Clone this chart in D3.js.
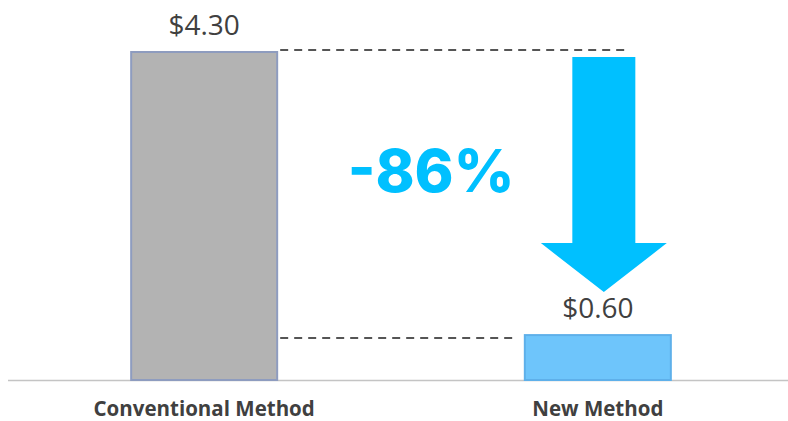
<!DOCTYPE html>
<html>
<head>
<meta charset="utf-8">
<script src="https://cdn.jsdelivr.net/npm/d3@7"></script>
<style>
  html, body { margin: 0; padding: 0; background: #ffffff; }
  svg { display: block; }
</style>
</head>
<body>
<svg id="chart" width="788" height="421"></svg>
<script>
// Cost per unit, conventional vs. new method
const categories = ["Conventional Method", "New Method"];
const values = [4.30, 0.60];
const valueLabels = ["$4.30", "$0.60"];
const changeLabel = "-86%";

const W = 788, H = 421;
const svg = d3.select("#chart");

const x = d3.scaleBand()
  .domain(categories)
  .range([16, 786])
  .paddingInner(0.624)
  .paddingOuter(0.29);

const y = d3.scaleLinear()
  .domain([0, 4.3])
  .range([380, 51]);

const fills = ["#b3b3b3", "#6ec5fb"];
const strokes = ["#8e9cbf", "#5eb0ea"];
const blue = "#00c0ff";

// baseline
svg.append("line")
  .attr("x1", 8).attr("x2", W)
  .attr("y1", y(0) + 0.5).attr("y2", y(0) + 0.5)
  .attr("stroke", "#c4c4c4")
  .attr("stroke-width", 1.6);

// bars
svg.selectAll("rect.bar")
  .data(values)
  .join("rect")
  .attr("class", "bar")
  .attr("x", (d, i) => x(categories[i]) + 1)
  .attr("y", d => y(d) + 1)
  .attr("width", x.bandwidth() - 2)
  .attr("height", d => y(0) - y(d) - 1)
  .attr("fill", (d, i) => fills[i])
  .attr("stroke", (d, i) => strokes[i])
  .attr("stroke-width", 2);

// value labels
svg.selectAll("text.val")
  .data(values)
  .join("text")
  .attr("class", "val")
  .attr("x", (d, i) => x(categories[i]) + x.bandwidth() / 2)
  .attr("y", d => y(d) - 16)
  .attr("text-anchor", "middle")
  .attr("font-family", "'Open Sans', sans-serif")
  .attr("font-size", 28)
  .attr("fill", "#404040")
  .text((d, i) => valueLabels[i]);

// category labels
const xAxis = d3.axisBottom(x).tickSize(0).tickPadding(0);
const gx = svg.append("g")
  .attr("transform", `translate(0,${y(0)})`)
  .call(xAxis);
gx.select(".domain").remove();
gx.selectAll("text")
  .attr("y", 35.5)
  .attr("dy", 0)
  .attr("font-family", "'Open Sans', sans-serif")
  .attr("font-weight", 700)
  .attr("font-size", 20.5)
  .attr("fill", "#404040");

// dashed guides from each bar's top
const x0End = x(categories[0]) + x.bandwidth();
const x1Start = x(categories[1]);
const x1Mid = x1Start + x.bandwidth() / 2;
svg.append("line")
  .attr("x1", x0End + 2).attr("x2", x1Mid + 28)
  .attr("y1", y(values[0]) - 1).attr("y2", y(values[0]) - 1)
  .attr("stroke", "#1e1e1e").attr("stroke-width", 1.5)
  .attr("stroke-dasharray", "8,6");
svg.append("line")
  .attr("x1", x0End + 2).attr("x2", x1Start - 8)
  .attr("y1", y(values[1]) + 4).attr("y2", y(values[1]) + 4)
  .attr("stroke", "#1e1e1e").attr("stroke-width", 1.5)
  .attr("stroke-dasharray", "8,6");

// downward arrow between the two levels
const aTop = y(values[0]) + 6;
const aTip = y(values[1]) - 42;
const shoulder = aTip - 49;
const shaftHalf = 31.5, headHalf = 63;
const ax = x1Mid + 6;
const arrow = d3.path();
arrow.moveTo(ax - shaftHalf, aTop);
arrow.lineTo(ax + shaftHalf, aTop);
arrow.lineTo(ax + shaftHalf, shoulder);
arrow.lineTo(ax + headHalf, shoulder);
arrow.lineTo(ax, aTip);
arrow.lineTo(ax - headHalf, shoulder);
arrow.lineTo(ax - shaftHalf, shoulder);
arrow.closePath();
svg.append("path").attr("d", arrow.toString()).attr("fill", blue);

// percentage change
svg.append("text")
  .attr("x", 431)
  .attr("y", 192)
  .attr("text-anchor", "middle")
  .attr("font-family", "Inter, sans-serif")
  .attr("font-weight", 800)
  .attr("font-size", 59)
  .attr("fill", blue)
  .text(changeLabel);
</script>
</body>
</html>
